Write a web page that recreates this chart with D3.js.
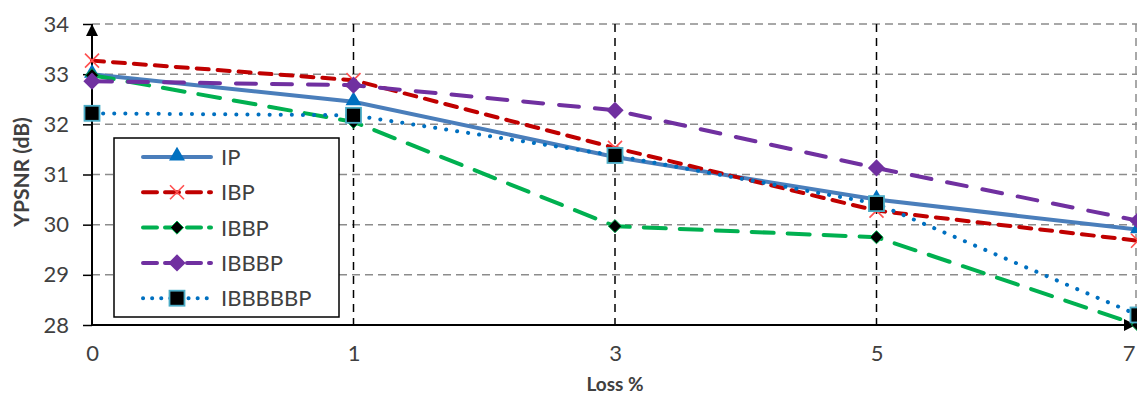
<!DOCTYPE html>
<html>
<head>
<meta charset="utf-8">
<script src="https://cdn.jsdelivr.net/npm/d3@7"></script>
<style>
  body { margin: 0; background: #fff; overflow: hidden; }
  text { font-family: Lato, "Open Sans", sans-serif; fill: #404040; }
</style>
</head>
<body>
<script>
// chart data
var lossLabels = ['0', '1', '3', '5', '7'];
var yTicks = [28, 29, 30, 31, 32, 33, 34];
var seriesNames = ['IP', 'IBP', 'IBBP', 'IBBBP', 'IBBBBBP'];
var ipVals = [33.0, 32.45, 31.35, 30.5, 29.9];
var ibpVals = [33.27, 32.88, 31.53, 30.28, 29.68];
var ibbpVals = [32.98, 32.05, 29.97, 29.75, 28.0];
var ibbbpVals = [32.86, 32.78, 32.28, 31.13, 30.08];
var ib5pVals = [32.22, 32.18, 31.38, 30.42, 28.2];

var W = 1137, H = 399;
var plotL = 92, plotR = 1138, plotT = 24, plotB = 325;

var svg = d3.select('body').append('svg')
  .attr('width', W)
  .attr('height', H);

var x = d3.scalePoint().domain(lossLabels).range([plotL, plotR]);
var y = d3.scaleLinear().domain([28, 34]).range([plotB, plotT]);

// horizontal grid
svg.append('g').selectAll('line').data(yTicks)
  .enter().append('line')
  .attr('x1', plotL).attr('x2', W)
  .attr('y1', function(d) {return y(d)})
  .attr('y2', function(d) {return y(d)})
  .attr('stroke', '#8c8c8c')
  .attr('stroke-width', 1.5)
  .attr('stroke-dasharray', '8,5');

// vertical grid
svg.append('g').selectAll('line').data(lossLabels.slice(1))
  .enter().append('line')
  .attr('x1', function(d) {return x(d) - (d === '7' ? 2 : 0)})
  .attr('x2', function(d) {return x(d) - (d === '7' ? 2 : 0)})
  .attr('y1', plotT).attr('y2', plotB)
  .attr('stroke', function(d) {return d === '7' ? '#8c8c8c' : '#000'})
  .attr('stroke-width', 1.5)
  .attr('stroke-dasharray', '8,6');

// y axis
var yAxis = d3.axisLeft(y).tickValues(yTicks).tickFormat(d3.format('d')).tickSize(9).tickPadding(14);
var gy = svg.append('g').attr('transform', 'translate(' + plotL + ',0)').call(yAxis);
gy.select('.domain').remove();
gy.selectAll('.tick line').attr('stroke', '#000').attr('stroke-width', 1.5);
gy.selectAll('.tick text').style('font-size', '22px').style('font-family', 'Lato, sans-serif').attr('fill', '#404040');

// x axis
var xAxis = d3.axisBottom(x).tickSize(0).tickPadding(20);
var gx = svg.append('g').attr('transform', 'translate(0,' + plotB + ')').call(xAxis);
gx.select('.domain').remove();
gx.selectAll('.tick text').style('font-size', '22px').style('font-family', 'Lato, sans-serif').attr('fill', '#404040');
// last label sits on the window edge, keep it inside
gx.selectAll('.tick text').filter(function(d) {return d === '7'})
  .attr('text-anchor', 'end').attr('dx', -3);

// axis lines with arrows
svg.append('defs').append('marker')
  .attr('id', 'arrow')
  .attr('viewBox', '0 0 10 10')
  .attr('refX', 10).attr('refY', 5)
  .attr('markerWidth', 6).attr('markerHeight', 6)
  .attr('markerUnits', 'strokeWidth')
  .attr('orient', 'auto')
  .append('path').attr('d', 'M0,0 L10,5 L0,10 Z').attr('fill', '#000');

svg.append('line')
  .attr('x1', plotL).attr('x2', plotL)
  .attr('y1', plotB + 1).attr('y2', plotT)
  .attr('stroke', '#000').attr('stroke-width', 2)
  .attr('marker-end', 'url(#arrow)');
svg.append('line')
  .attr('x1', plotL).attr('x2', plotR - 2)
  .attr('y1', plotB).attr('y2', plotB)
  .attr('stroke', '#000').attr('stroke-width', 2)
  .attr('marker-end', 'url(#arrow)');

// series
var series = [
  {name: seriesNames[0], vals: ipVals, color: '#4a7ebb', dash: null, marker: 'tri'},
  {name: seriesNames[1], vals: ibpVals, color: '#c00000', dash: '12,9', marker: 'x'},
  {name: seriesNames[2], vals: ibbpVals, color: '#00b050', dash: '22,14', marker: 'dia'},
  {name: seriesNames[3], vals: ibbbpVals, color: '#7030a0', dash: '20,16', marker: 'pdia'},
  {name: seriesNames[4], vals: ib5pVals, color: '#0070c0', dash: '0.1,11', marker: 'sq'}
];

var line = d3.line()
  .x(function(d, i) {return x(lossLabels[i])})
  .y(function(d) {return y(d)});

function drawMarker(g, type, px, py) {
  if (type === 'tri') {
    g.append('path').attr('d', d3.symbol().type(d3.symbolTriangle).size(110)())
      .attr('transform', 'translate(' + px + ',' + (py - 1) + ')')
      .attr('fill', '#0070c0');
  } else if (type === 'x') {
    g.append('path')
      .attr('d', 'M-7,-7L7,7M-7,7L7,-7')
      .attr('transform', 'translate(' + px + ',' + py + ')')
      .attr('stroke', '#ff5050').attr('stroke-width', 1.6).attr('fill', 'none');
  } else if (type === 'dia') {
    g.append('path').attr('d', d3.symbol().type(d3.symbolDiamond2).size(110)())
      .attr('transform', 'translate(' + px + ',' + py + ')')
      .attr('fill', '#000').attr('stroke', '#00b050').attr('stroke-width', 1);
  } else if (type === 'pdia') {
    g.append('path').attr('d', d3.symbol().type(d3.symbolDiamond2).size(190)())
      .attr('transform', 'translate(' + px + ',' + py + ')')
      .attr('fill', '#7030a0');
  } else if (type === 'sq') {
    g.append('rect')
      .attr('x', px - 7.5).attr('y', py - 7.5)
      .attr('width', 15).attr('height', 15)
      .attr('fill', '#000').attr('stroke', '#4bacc6').attr('stroke-width', 1.8);
  }
}

series.forEach(function(s) {
  var g = svg.append('g');
  g.append('path')
    .attr('d', line(s.vals))
    .attr('fill', 'none')
    .attr('stroke', s.color)
    .attr('stroke-width', 4)
    .attr('stroke-linecap', 'round')
    .attr('stroke-dasharray', s.dash);
  s.vals.forEach(function(v, i) {
    drawMarker(g, s.marker, x(lossLabels[i]), y(v));
  });
});

// legend
var lg = svg.append('g');
lg.append('rect')
  .attr('x', 114).attr('y', 138)
  .attr('width', 225).attr('height', 179)
  .attr('fill', '#fff').attr('stroke', '#000').attr('stroke-width', 1.5);
series.forEach(function(s, i) {
  var ly = 157 + i * 35.3;
  lg.append('line')
    .attr('x1', 143).attr('x2', 211)
    .attr('y1', ly).attr('y2', ly)
    .attr('stroke', s.color).attr('stroke-width', 4)
    .attr('stroke-linecap', 'round')
    .attr('stroke-dasharray', s.marker === 'sq' ? '0.1,9' : (s.dash ? '14,8' : null));
  drawMarker(lg, s.marker, 177, ly);
  lg.append('text')
    .attr('x', 221).attr('y', ly + 8)
    .style('font-size', '22px')
    .text(s.name);
});

// titles
svg.append('text')
  .attr('x', (plotL + plotR) / 2).attr('y', 391)
  .attr('text-anchor', 'middle')
  .style('font-size', '19px').style('font-weight', 'bold')
  .text('Loss %');
svg.append('text')
  .attr('transform', 'translate(29,172) rotate(-90)')
  .attr('text-anchor', 'middle')
  .style('font-size', '21px').style('font-weight', 'bold')
  .text('YPSNR (dB)');
</script>
</body>
</html>
